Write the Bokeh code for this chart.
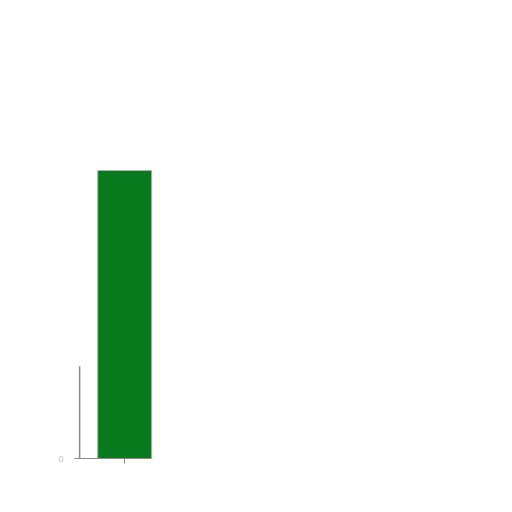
from bokeh.plotting import figure
from bokeh.models import Range1d, FixedTicker
from bokeh.embed import file_html
from bokeh.resources import INLINE

# data
bar_x = [0.0]
bar_values = [100]
thin_x = [-0.835]
thin_values = [32]
y_ticks = [0]
x_ticks = [0]

p = figure(width=496, height=496, output_backend="svg", toolbar_location=None,
           x_range=Range1d(-0.93, 6.74), y_range=Range1d(0, 150),
           min_border_left=74, min_border_right=8, min_border_top=26, min_border_bottom=38)
p.outline_line_color = None
p.xgrid.visible = False
p.ygrid.visible = False

p.vbar(x=bar_x, top=bar_values, width=1.0, bottom=0,
       fill_color="#077a1d", line_color="#b0b0b0", line_width=1)
p.segment(x0=thin_x, y0=[0] * len(thin_x), x1=thin_x, y1=thin_values,
          line_color="#8a8a8a", line_width=1.5)

xa = p.xaxis[0]
xa.ticker = FixedTicker(ticks=x_ticks)
xa.bounds = (-0.93, 0.5)
xa.axis_line_color = "#8a8a8a"
xa.major_tick_line_color = "#8a8a8a"
xa.major_tick_in = 0
xa.major_tick_out = 5
xa.minor_tick_line_color = None
xa.major_label_overrides = {0: ""}

ya = p.yaxis[0]
ya.ticker = FixedTicker(ticks=y_ticks)
ya.axis_line_color = None
ya.major_tick_line_color = None
ya.minor_tick_line_color = None
ya.major_tick_in = 0
ya.major_tick_out = 0
ya.major_label_standoff = 11
ya.major_label_text_color = "#c8c8c8"
ya.major_label_text_font_size = "9px"

open("out.html", "w").write(file_html(p, INLINE))
